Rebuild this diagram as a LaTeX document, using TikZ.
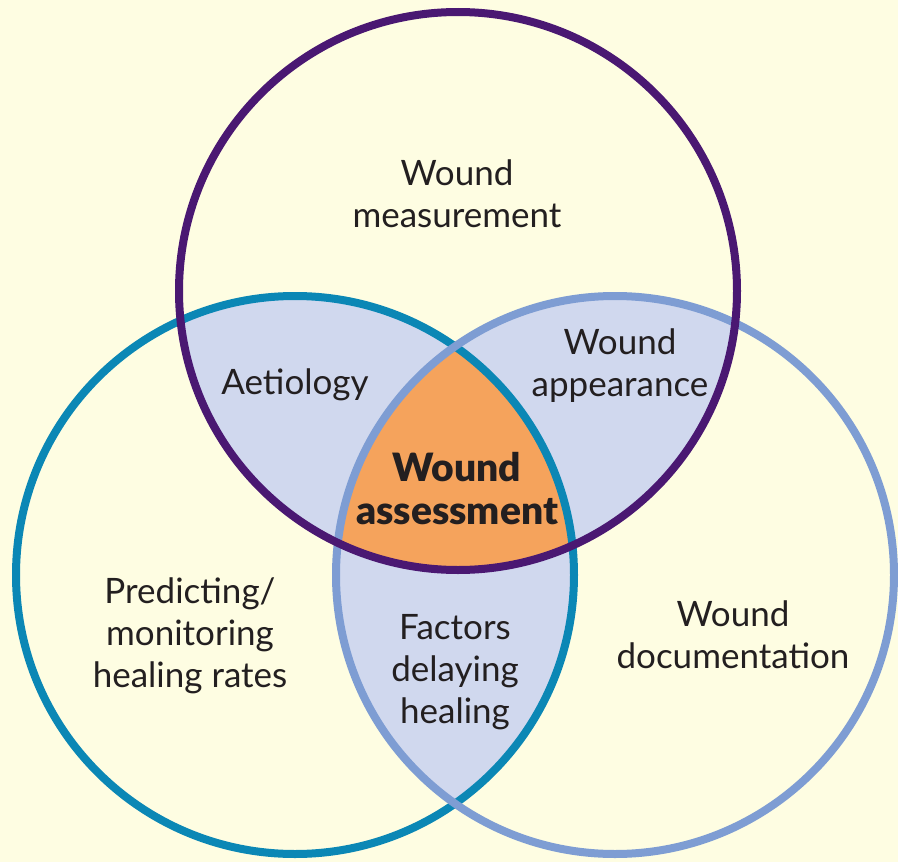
\documentclass[tikz,border=0pt]{standalone}
\usepackage{fontspec}
\setmainfont{Lato}
\IfFontExistsTF{Lato Black}{\newfontfamily\heavyfont{Lato Black}\def\heavysize{39}}{\newfontfamily\heavyfont{Lato}[UprightFont=*-Bold]\def\heavysize{41}}
\definecolor{bg}{HTML}{FEFDE2}
\definecolor{purp}{HTML}{4A1872}
\definecolor{tealc}{HTML}{0B87B5}
\definecolor{lblue}{HTML}{7E9DD3}
\definecolor{lav}{HTML}{D0D8EE}
\definecolor{orng}{HTML}{F5A35C}
\definecolor{txt}{HTML}{231F20}
\begin{document}
\begin{tikzpicture}[x=1pt,y=-1pt,
  ring/.style={line width=8pt},
  lbl/.style={align=center, font=\fontsize{35}{42}\selectfont, text=txt, inner sep=0pt},
  boldlbl/.style={lbl, font=\heavyfont\fontsize{\heavysize}{43}\selectfont}]
\fill[bg] (0,0) rectangle (898,862);
\useasboundingbox (0,0) rectangle (898,862);
\coordinate (T) at (458,291);
\coordinate (L) at (295,575);
\coordinate (R) at (615,575);
\def\rr{279pt}
\begin{scope}
  \clip (T) circle[radius=\rr];
  \fill[lav] (L) circle[radius=\rr];
  \fill[lav] (R) circle[radius=\rr];
\end{scope}
\begin{scope}
  \clip (L) circle[radius=\rr];
  \fill[lav] (R) circle[radius=\rr];
\end{scope}
\begin{scope}
  \clip (T) circle[radius=\rr];
  \clip (L) circle[radius=\rr];
  \fill[orng] (R) circle[radius=\rr];
\end{scope}
\draw[ring, tealc] (L) circle[radius=\rr];
\draw[ring, lblue] (R) circle[radius=\rr];
\draw[ring, purp] (T) circle[radius=\rr];
\node[lbl] (meas) at (457,194) {Wound\\measurement};
\node[lbl] (aet) at (295,385) {Aetiology};
\node[lbl] (app) at (620,366) {Wound\\appearance};
\node[boldlbl] (ass) at (457,489) {Wound\\assessment};
\node[lbl] (pred) at (190,636) {Predicting/\\monitoring\\healing rates};
\node[lbl] (fac) at (455,672) {Factors\\delaying\\healing};
\node[lbl] (doc) at (733,635) {Wound\\documentation};
\end{tikzpicture}
\end{document}
